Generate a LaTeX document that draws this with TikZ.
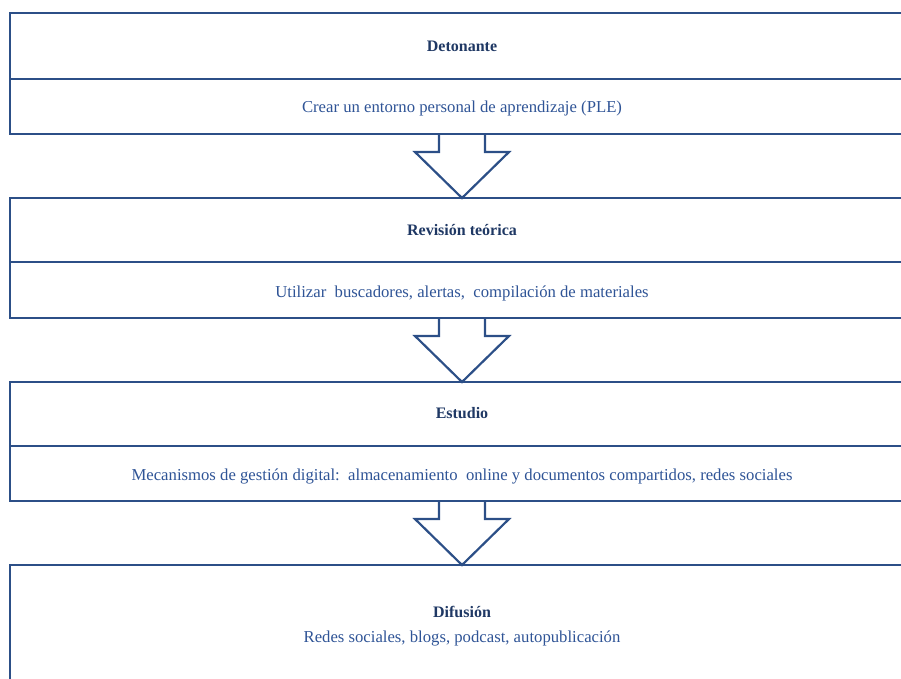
\documentclass[tikz,border=0pt]{standalone}
\usepackage{fontspec}
\setmainfont{Liberation Serif}
\usetikzlibrary{calc}

\definecolor{linea}{RGB}{44,79,135}
\definecolor{titulo}{RGB}{31,56,100}
\definecolor{texto}{RGB}{47,84,150}

\tikzset{
	caja/.style={draw=linea, line width=2.8pt, rectangle, anchor=north west, minimum width=904pt, outer sep=0pt},
	division/.style={draw=linea, line width=2.2pt},
	flecha/.style={draw=linea, line width=2.2pt, line join=miter},
	titulo/.style={text=titulo, font=\fontsize{16}{18}\selectfont\bfseries},
	texto/.style={text=texto, font=\fontsize{16.7}{19}\selectfont}
}

\begin{document}
\begin{tikzpicture}[x=1pt, y=-1pt]
\useasboundingbox (0,0) rectangle (901,679);
\clip (0,0) rectangle (901,679);

\node[caja, minimum height=121pt] (detonante) at (10,13) {};
\node[caja, minimum height=120pt] (revision) at (10,198) {};
\node[caja, minimum height=119pt] (estudio) at (10,382) {};
\node[caja, minimum height=140pt] (difusion) at (10,565) {};

\draw[division] ($(detonante.north west)+(0,66)$) -- ($(detonante.north east)+(0,66)$);
\draw[division] ($(revision.north west)+(0,64)$) -- ($(revision.north east)+(0,64)$);
\draw[division] ($(estudio.north west)+(0,64)$) -- ($(estudio.north east)+(0,64)$);

\node[titulo] (t1) at ($(detonante.north)+(0,33)$) {Detonante};
\node[texto] (d1) at ($(detonante.north)+(0,95)$) {Crear un entorno personal de aprendizaje (PLE)};
\node[titulo] (t2) at ($(revision.north)+(0,32)$) {Revisión teórica};
\node[texto] (d2) at ($(revision.north)+(0,95)$) {Utilizar\ \ buscadores, alertas,\ \ compilación de materiales};
\node[titulo] (t3) at ($(estudio.north)+(0,31)$) {Estudio};
\node[texto] (d3) at ($(estudio.north)+(0,94)$) {Mecanismos de gestión digital:\ \ almacenamiento\ \ online y documentos compartidos, redes sociales};
\node[titulo] (t4) at ($(difusion.north)+(0,47)$) {Difusión};
\node[texto] (d4) at ($(difusion.north)+(0,73)$) {Redes sociales, blogs, podcast, autopublicación};

% flechas entre cajas
\draw[flecha] (detonante.south) ++(-23,0) -- ++(0,18) -- ++(-24,0) -- (revision.north) -- ++(47,-46) -- ++(-24,0) -- ++(0,-18);
\draw[flecha] (revision.south) ++(-23,0) -- ++(0,18) -- ++(-24,0) -- (estudio.north) -- ++(47,-46) -- ++(-24,0) -- ++(0,-18);
\draw[flecha] (estudio.south) ++(-23,0) -- ++(0,18) -- ++(-24,0) -- (difusion.north) -- ++(47,-46) -- ++(-24,0) -- ++(0,-18);
\end{tikzpicture}
\end{document}
